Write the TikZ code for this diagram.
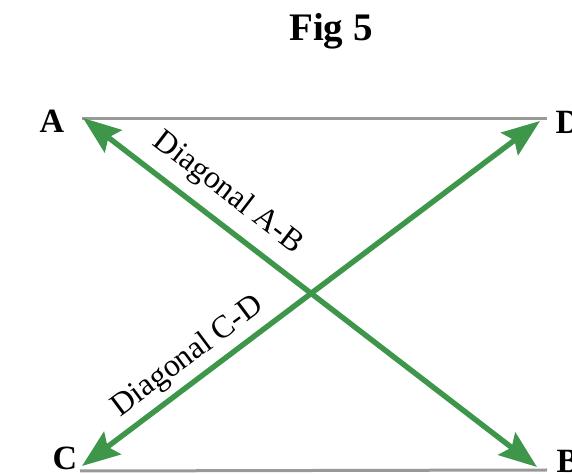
\documentclass[tikz,border=0pt]{standalone}
\usepackage{fontspec}
\setmainfont{Liberation Serif}
\usepackage{tikz}
\usetikzlibrary{arrows.meta}
\definecolor{diaggreen}{RGB}{62,150,74}

\begin{document}
\begin{tikzpicture}[x=0.5pt,y=-0.5pt]
\useasboundingbox (0,0) rectangle (572,474);
% corner points
\coordinate (A) at (83,118);
\coordinate (D) at (540,121);
\coordinate (C) at (82,466);
\coordinate (B) at (537,467);
\coordinate (Aedge) at (82,119);
\coordinate (Dedge) at (547,119);
\coordinate (Cedge) at (80,471);
\coordinate (Bedge) at (547,470);
\draw [line width=1.5pt, color=black!40] (Aedge) -- (Dedge);
\draw [line width=1.5pt, color=black!40] (Cedge) -- (Bedge);
\draw [line width=2.7pt, color=diaggreen, {Stealth[length=19pt,width=14pt,inset=3pt]}-{Stealth[length=19pt,width=14pt,inset=3pt]}] (A) -- (B);
\draw [line width=2.7pt, color=diaggreen, {Stealth[length=19pt,width=14pt,inset=3pt]}-{Stealth[length=19pt,width=14pt,inset=3pt]}] (C) -- (D);
\node (title) at (331,31) {\fontsize{19.5pt}{22pt}\selectfont\bfseries Fig 5};
\node (labA) at (52,121) {\fontsize{17pt}{20pt}\selectfont\bfseries A};
\node (labD) at (568,122) {\fontsize{17pt}{20pt}\selectfont\bfseries D};
\node (labC) at (65,458) {\fontsize{17pt}{20pt}\selectfont\bfseries C};
\node (labB) at (568,461) {\fontsize{17pt}{20pt}\selectfont\bfseries B};
\node (diagAB) at (228,193) [rotate=-37.6] {\fontsize{16pt}{18pt}\selectfont Diagonal A-B};
\node (diagCD) at (188,357) [rotate=36.8] {\fontsize{16pt}{18pt}\selectfont Diagonal C-D};
\end{tikzpicture}
\end{document}
